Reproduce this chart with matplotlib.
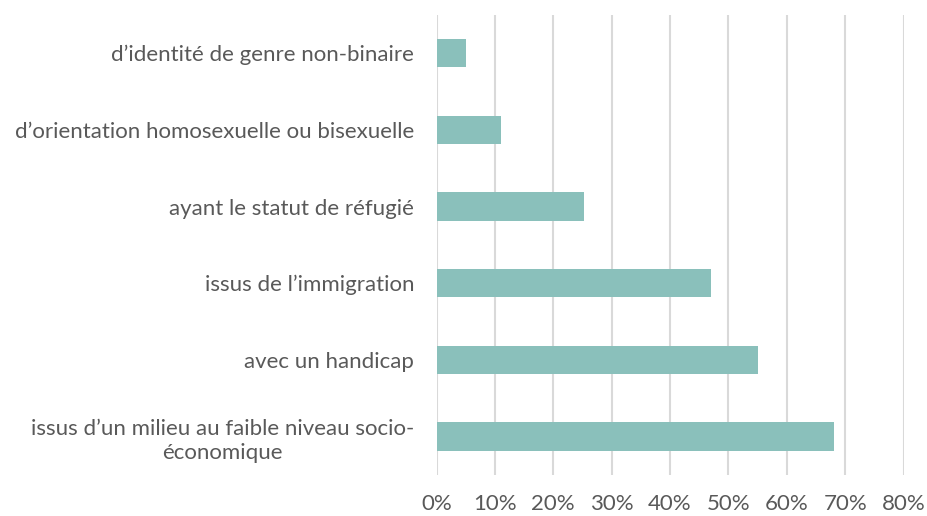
import matplotlib
matplotlib.use("Agg")
import matplotlib.pyplot as plt
from matplotlib.ticker import FuncFormatter

# categories, top to bottom as shown
categories = [
    "d\u2019identité de genre non-binaire",
    "d\u2019orientation homosexuelle ou bisexuelle",
    "ayant le statut de réfugié",
    "issus de l\u2019immigration",
    "avec un handicap",
    "issus d\u2019un milieu au faible niveau socio-\néconomique",
]
values = [5.0, 11.1, 25.2, 47.1, 55.1, 68.1]
x_ticks = [0, 10, 20, 30, 40, 50, 60, 70, 80]

plt.rcParams['font.family'] = ['Lato', 'DejaVu Sans']
text_color = '#595959'
grid_color = '#d9d9d9'
bar_color = '#8ac0bb'

fig = plt.figure(figsize=(9.27, 5.16), dpi=100)
ax = fig.add_axes([0.4709, 0.0795, 0.5038, 0.8915])

pos = list(range(len(categories)))[::-1]
ax.barh(pos, values, height=0.37, color=bar_color, zorder=3)

ax.set_xlim(0, 80)
ax.set_ylim(-0.5, len(categories) - 0.5)
ax.set_xticks(x_ticks)
ax.xaxis.set_major_formatter(FuncFormatter(lambda v, p: f"{v:.0f}%"))
ax.set_yticks(pos)
ax.set_yticklabels(categories, multialignment='center', linespacing=1.25)

ax.grid(axis='x', color=grid_color, linewidth=1.5, zorder=0)
for s in ax.spines.values():
    s.set_visible(False)
ax.tick_params(axis='both', length=0, labelsize=16, colors=text_color)
ax.tick_params(axis='y', pad=16)
ax.tick_params(axis='x', pad=14)

fig.savefig("out.png", dpi=100)
